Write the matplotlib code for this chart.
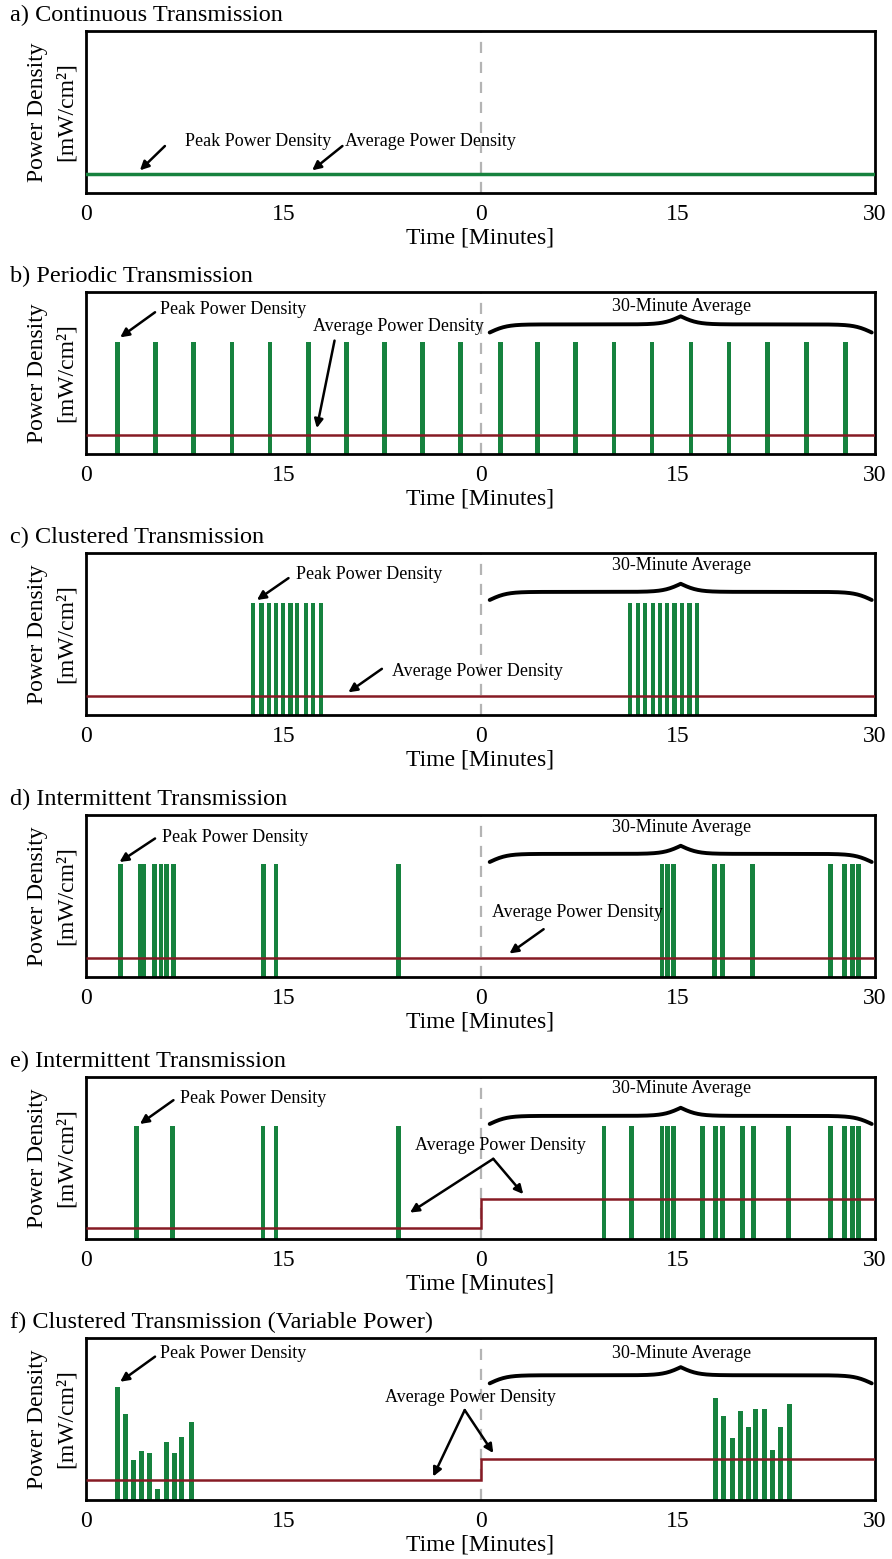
import numpy as np
import matplotlib.pyplot as plt

plt.rcParams['font.family'] = ['Liberation Serif', 'DejaVu Serif']

# данные (время в минутах, 0..60; вторая половина подписана 0..30)
titles = ['a) Continuous Transmission', 'b) Periodic Transmission',
          'c) Clustered Transmission', 'd) Intermittent Transmission',
          'e) Intermittent Transmission',
          'f) Clustered Transmission (Variable Power)']
tick_pos = [0, 15, 30, 45, 60]
tick_labels = ['0', '15', '0', '15', '30']
avg_edges = [0, 30, 60]

a_level = 0.12

b_times = [2.4, 5.3, 8.2, 11.1, 14.0, 16.9, 19.8, 22.7, 25.6, 28.5,
           31.5, 34.35, 37.25, 40.15, 43.05, 46.0, 48.9, 51.85, 54.8, 57.75]
b_peak = 0.69
b_avg = [0.12, 0.12]

c_times = [12.7, 13.35, 13.9, 14.45, 15.0, 15.55, 16.05, 16.7, 17.25, 17.85,
           41.35, 41.95, 42.5, 43.1, 43.65, 44.2, 44.75, 45.3, 45.9, 46.45]
c_peak = 0.69
c_avg = [0.12, 0.12]

d_times = [2.6, 4.1, 4.4, 5.2, 5.7, 6.1, 6.65, 13.5, 14.45, 23.75,
           43.8, 44.2, 44.65, 47.8, 48.4, 50.7, 56.6, 57.7, 58.3, 58.75]
d_peak = 0.70
d_avg = [0.12, 0.12]

e_times = [3.85, 6.6, 13.45, 14.45, 23.75,
           39.4, 41.5, 43.8, 44.2, 44.65, 46.9, 47.85, 48.4, 49.95, 50.75,
           53.4, 56.6, 57.7, 58.3, 58.75]
e_peak = 0.695
e_avg = [0.066, 0.25]

f_times = [2.4, 3.0, 3.6, 4.2, 4.85, 5.4, 6.1, 6.7, 7.3, 8.0,
           47.85, 48.45, 49.15, 49.75, 50.4, 50.95, 51.6, 52.2, 52.85, 53.5]
f_heights = [0.70, 0.53, 0.25, 0.30, 0.29, 0.07, 0.36, 0.29, 0.39, 0.48,
             0.63, 0.52, 0.38, 0.55, 0.45, 0.56, 0.56, 0.31, 0.45, 0.59]
f_avg = [0.124, 0.254]

GREEN = '#16823e'
RED = '#861a24'
W, H = 892, 1559
tops = [31, 292, 553, 815, 1077, 1338]
ax_h = 162


def brace(ax, x0, x1, y, h=0.1, k=22):
    # фигурная скобка "30-Minute Average"
    u = np.linspace(0, 1, 200)
    f = 1 / (1 + np.exp(-k * u)) + 1 / (1 + np.exp(-k * (u - 1)))
    half = (x1 - x0) / 2
    xs = np.concatenate([x0 + u * half, x1 - u[::-1] * half])
    ys = np.concatenate([f, f[::-1]])
    ax.plot(xs, y + (ys - 1) * h, color='black', lw=2.8, solid_capstyle='round',
            zorder=5)


def arrow(ax, tail, head):
    ax.annotate('', xy=head, xytext=tail,
                arrowprops=dict(arrowstyle='-|>', color='black', lw=1.8,
                                mutation_scale=13, shrinkA=0, shrinkB=0),
                zorder=6)


fig = plt.figure(figsize=(W / 100, H / 100), dpi=100)
axes = []
for i, top in enumerate(tops):
    ax = fig.add_axes([86 / W, 1 - (top + ax_h) / H, 789 / W, ax_h / H])
    ax.set_xlim(0, 60)
    ax.set_ylim(0, 1)
    ax.set_xticks(tick_pos)
    ax.set_xticklabels(tick_labels, fontsize=17)
    ax.tick_params(axis='x', length=0, pad=8)
    ax.set_yticks([])
    for s in ax.spines.values():
        s.set_linewidth(2)
    ax.axvline(30, color='#b4b4b4', lw=1.6, ls=(0, (5, 4)), zorder=1)
    ax.set_xlabel('Time [Minutes]', fontsize=17, labelpad=2)
    ax.set_ylabel('Power Density\n[mW/cm²]', fontsize=17, labelpad=7,
                  linespacing=1.45)
    ax.text(-76 / 789, 1 + 16 / ax_h, titles[i], transform=ax.transAxes,
            fontsize=17.5, ha='left', va='center')
    axes.append(ax)

txt = dict(fontsize=13, ha='left', va='center')
ctr = dict(fontsize=13, ha='center', va='center')

# a) непрерывная передача
ax = axes[0]
ax.axhline(a_level, color=GREEN, lw=2.5, zorder=3)
ax.text(7.5, 0.315, 'Peak Power Density', **txt)
arrow(ax, (6.0, 0.29), (4.1, 0.14))
ax.text(19.7, 0.315, 'Average Power Density', **txt)
arrow(ax, (19.5, 0.29), (17.2, 0.14))

# b) периодическая
ax = axes[1]
ax.bar(b_times, [b_peak] * len(b_times), width=0.36, color=GREEN, zorder=2)
ax.stairs(b_avg, avg_edges, baseline=None, color=RED, lw=1.8, zorder=4)
ax.text(5.63, 0.895, 'Peak Power Density', **txt)
arrow(ax, (5.25, 0.875), (2.6, 0.72))
ax.text(17.24, 0.786, 'Average Power Density', **txt)
arrow(ax, (18.9, 0.70), (17.55, 0.16))
brace(ax, 30.7, 59.75, 0.80)
ax.text(45.3, 0.91, '30-Minute Average', **ctr)

# c) кластерная
ax = axes[2]
ax.bar(c_times, [c_peak] * len(c_times), width=0.32, color=GREEN, zorder=2)
ax.stairs(c_avg, avg_edges, baseline=None, color=RED, lw=1.8, zorder=4)
ax.text(15.97, 0.865, 'Peak Power Density', **txt)
arrow(ax, (15.4, 0.845), (13.0, 0.71))
ax.text(23.25, 0.27, 'Average Power Density', **txt)
arrow(ax, (22.5, 0.285), (19.95, 0.14))
brace(ax, 30.7, 59.75, 0.76)
ax.text(45.3, 0.92, '30-Minute Average', **ctr)

# d) прерывистая
ax = axes[3]
ax.bar(d_times, [d_peak] * len(d_times), width=0.36, color=GREEN, zorder=2)
ax.stairs(d_avg, avg_edges, baseline=None, color=RED, lw=1.8, zorder=4)
ax.text(5.76, 0.86, 'Peak Power Density', **txt)
arrow(ax, (5.25, 0.855), (2.55, 0.71))
ax.text(30.85, 0.40, 'Average Power Density', **txt)
arrow(ax, (34.8, 0.295), (32.2, 0.145))
brace(ax, 30.7, 59.75, 0.76)
ax.text(45.3, 0.92, '30-Minute Average', **ctr)

# e) прерывистая, среднее меняется
ax = axes[4]
ax.bar(e_times, [e_peak] * len(e_times), width=0.36, color=GREEN, zorder=2)
ax.stairs(e_avg, avg_edges, baseline=None, color=RED, lw=1.8, zorder=4)
ax.text(7.15, 0.87, 'Peak Power Density', **txt)
arrow(ax, (6.65, 0.857), (4.1, 0.71))
ax.text(31.5, 0.58, 'Average Power Density', **ctr)
arrow(ax, (30.97, 0.495), (24.64, 0.163))
arrow(ax, (30.97, 0.495), (33.25, 0.277))
brace(ax, 30.7, 59.75, 0.76)
ax.text(45.3, 0.93, '30-Minute Average', **ctr)

# f) кластерная с переменной мощностью
ax = axes[5]
ax.bar(f_times, f_heights, width=0.38, color=GREEN, zorder=2)
ax.stairs(f_avg, avg_edges, baseline=None, color=RED, lw=1.8, zorder=4)
ax.text(5.63, 0.905, 'Peak Power Density', **txt)
arrow(ax, (5.25, 0.885), (2.6, 0.73))
ax.text(29.2, 0.63, 'Average Power Density', **ctr)
arrow(ax, (28.8, 0.555), (26.4, 0.145))
arrow(ax, (28.8, 0.555), (30.97, 0.29))
brace(ax, 30.7, 59.75, 0.77)
ax.text(45.3, 0.905, '30-Minute Average', **ctr)

fig.savefig('out.png', dpi=100)
